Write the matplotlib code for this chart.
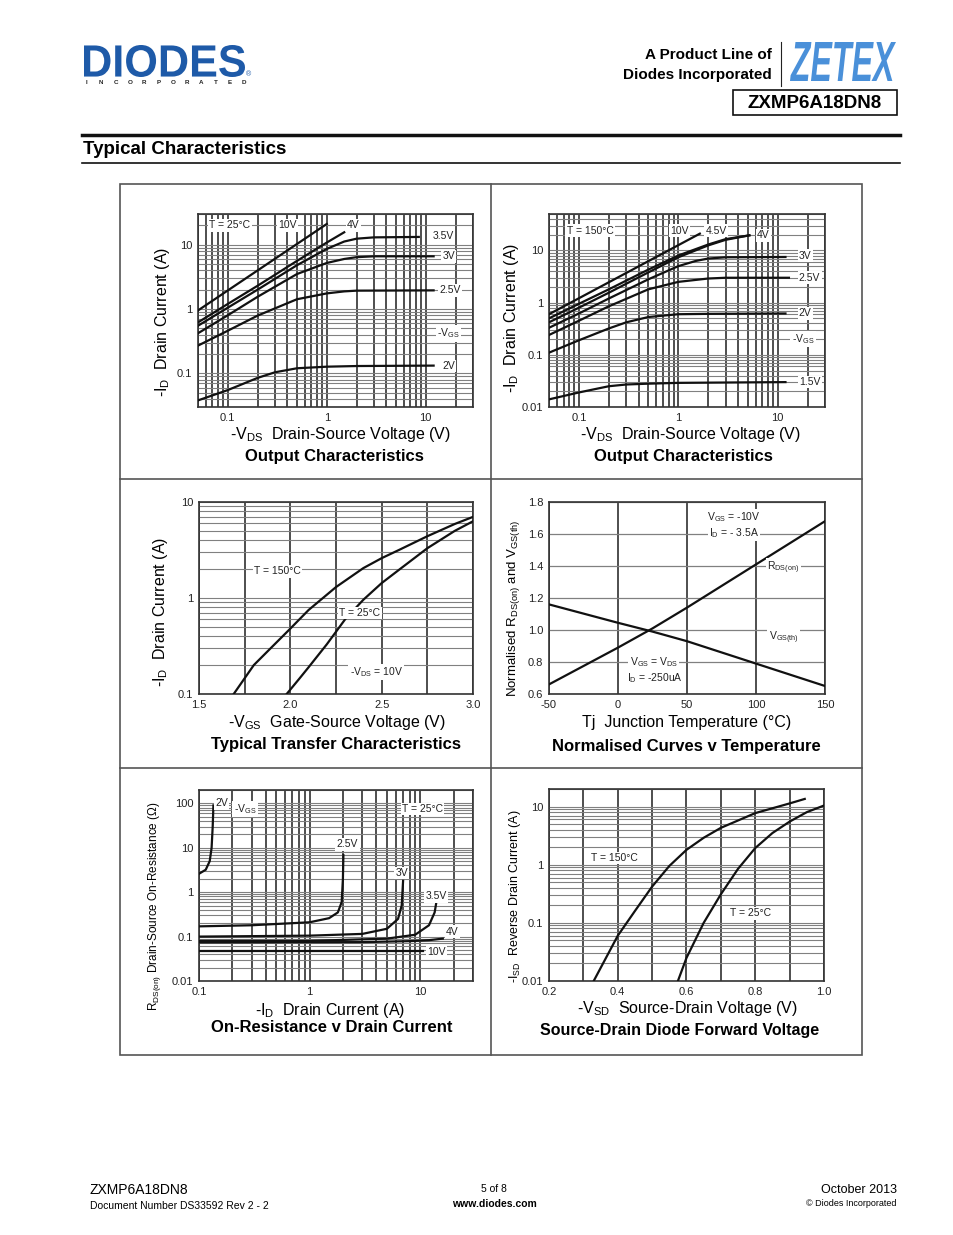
import matplotlib
matplotlib.use("Agg")
import matplotlib.pyplot as plt
from matplotlib.ticker import LogLocator, NullFormatter, FixedLocator
from matplotlib.patches import Rectangle, PathPatch
from matplotlib.textpath import TextPath
from matplotlib.font_manager import FontProperties
from matplotlib.transforms import Affine2D

plt.rcParams['font.family'] = ['Liberation Sans', 'DejaVu Sans']
plt.rcParams['mathtext.fontset'] = 'custom'
plt.rcParams['mathtext.rm'] = 'Liberation Sans'
plt.rcParams['mathtext.it'] = 'Liberation Sans:italic'
plt.rcParams['mathtext.bf'] = 'Liberation Sans:bold'

W, H = 954, 1235

# ---- Output characteristics, T = 25°C ----
oc25_10v_x = [0.05, 1.0]
oc25_10v_y = [0.95, 21]
oc25_4v_x = [0.05, 0.1, 0.2, 0.5, 1.0, 1.5]
oc25_4v_y = [0.62, 1.2, 2.3, 5.6, 10.8, 15.6]
oc25_35v_x = [0.05, 0.1, 0.2, 0.5, 1.0, 1.5, 2.0, 3.0, 8.5]
oc25_35v_y = [0.55, 1.05, 2.0, 4.8, 8.6, 11.2, 12.4, 13.0, 13.2]
oc25_3v_x = [0.05, 0.1, 0.2, 0.5, 1.0, 1.5, 2.0, 3.0, 12]
oc25_3v_y = [0.42, 0.8, 1.55, 3.5, 5.2, 6.0, 6.4, 6.6, 6.6]
oc25_25v_x = [0.05, 0.1, 0.2, 0.5, 1.0, 1.5, 2.0, 12]
oc25_25v_y = [0.27, 0.46, 0.79, 1.42, 1.75, 1.88, 1.93, 1.95]
oc25_2v_x = [0.05, 0.1, 0.2, 0.3, 0.5, 1.0, 2.0, 12]
oc25_2v_y = [0.038, 0.055, 0.085, 0.104, 0.12, 0.127, 0.13, 0.132]

# ---- Output characteristics, T = 150°C ----
oc150_10v_x = [0.05, 1.65]
oc150_10v_y = [0.6, 21]
oc150_45v_x = [0.05, 0.1, 0.2, 0.5, 1.0, 2.0, 3.0, 5.2]
oc150_45v_y = [0.5, 0.95, 1.8, 4.3, 8.0, 13.0, 16.5, 19.5]
oc150_4v_x = [0.05, 0.1, 0.2, 0.5, 1.0, 2.0, 3.0, 5.2]
oc150_4v_y = [0.42, 0.8, 1.55, 3.8, 7.4, 12.5, 16.0, 19.5]
oc150_3v_x = [0.05, 0.1, 0.2, 0.5, 1.0, 1.5, 2.0, 3.0, 12]
oc150_3v_y = [0.33, 0.62, 1.2, 2.8, 5.0, 6.3, 7.0, 7.4, 7.5]
oc150_25v_x = [0.05, 0.1, 0.2, 0.5, 1.0, 2.0, 3.0, 13]
oc150_25v_y = [0.24, 0.45, 0.85, 1.8, 2.5, 2.9, 3.0, 3.0]
oc150_2v_x = [0.05, 0.1, 0.2, 0.3, 0.5, 1.0, 2.0, 12]
oc150_2v_y = [0.11, 0.19, 0.32, 0.42, 0.53, 0.6, 0.61, 0.62]
oc150_15v_x = [0.05, 0.1, 0.2, 0.3, 0.5, 1.0, 12]
oc150_15v_y = [0.014, 0.019, 0.025, 0.027, 0.028, 0.029, 0.03]

# ---- Transfer characteristics ----
tr150_vgs = [1.69, 1.8, 1.9, 2.0, 2.1, 2.25, 2.4, 2.5, 2.6, 2.75, 2.9, 3.0]
tr150_id = [0.1, 0.2, 0.31, 0.48, 0.75, 1.3, 2.05, 2.6, 3.2, 4.4, 5.9, 7.0]
tr25_vgs = [1.98, 2.05, 2.1, 2.2, 2.3, 2.4, 2.5, 2.6, 2.75, 2.9, 3.0]
tr25_id = [0.1, 0.145, 0.19, 0.33, 0.6, 0.96, 1.43, 2.0, 3.3, 5.0, 6.3]

# ---- Normalised curves v temperature ----
nt_temp = [-50, 0, 25, 50, 100, 150]
nt_rds = [0.66, 0.89, 1.01, 1.14, 1.41, 1.68]
nt_vth = [1.16, 1.045, 0.99, 0.93, 0.79, 0.65]

# ---- On-resistance v drain current ----
rd_2v_i = [0.1, 0.115, 0.125, 0.13, 0.133, 0.135]
rd_2v_r = [2.6, 3.2, 5.0, 10, 30, 90]
rd_25v_i = [0.1, 0.3, 1.0, 1.5, 1.8, 1.95, 2.0, 2.02]
rd_25v_r = [0.17, 0.18, 0.21, 0.26, 0.35, 0.6, 2.0, 6.8]
rd_3v_i = [0.1, 1.0, 3.0, 5.0, 6.3, 6.8, 7.0]
rd_3v_r = [0.1, 0.105, 0.115, 0.15, 0.25, 0.5, 1.8]
rd_35v_i = [0.1, 1.0, 5.0, 9.0, 12.0, 13.5, 14.0]
rd_35v_r = [0.08, 0.08, 0.09, 0.11, 0.18, 0.35, 0.6]
rd_4v_i = [0.1, 3.0, 8.0, 12.0, 16.0]
rd_4v_r = [0.074, 0.075, 0.079, 0.083, 0.09]
rd_10v_i = [0.1, 10.6]
rd_10v_r = [0.047, 0.047]

# ---- Source-drain diode forward voltage ----
sd150_v = [0.33, 0.4, 0.45, 0.5, 0.55, 0.6, 0.65, 0.7, 0.8, 0.9, 0.944]
sd150_i = [0.01, 0.06, 0.16, 0.42, 0.95, 1.8, 2.9, 4.3, 7.7, 11.3, 13.5]
sd25_v = [0.575, 0.6, 0.65, 0.7, 0.75, 0.8, 0.85, 0.9, 0.95, 1.0]
sd25_i = [0.01, 0.025, 0.1, 0.31, 0.85, 1.93, 3.5, 5.5, 8.0, 10.4]

fig = plt.figure(figsize=(W / 100, H / 100), dpi=100)


def px_axes(x0, y0, x1, y1):
    return fig.add_axes([x0 / W, 1 - y1 / H, (x1 - x0) / W, (y1 - y0) / H])


def ftext(x, y, s, **kw):
    return fig.text(x / W, 1 - y / H, s, **kw)


def logo(s, x0, y0, x1, y1, color, fp):
    # text stretched into a pixel box (top-left origin)
    tp = TextPath((0, 0), s, size=100, prop=fp)
    ext = tp.get_extents()
    tr = (Affine2D().translate(-ext.x0, -ext.y0)
          .scale((x1 - x0) / ext.width, (y1 - y0) / ext.height)
          .translate(x0, H - y1).scale(1 / W, 1 / H))
    fig.add_artist(PathPatch(tr.transform_path(tp), facecolor=color, edgecolor='none',
                             transform=fig.transFigure))


def style(ax, logx=True, logy=True):
    if logx:
        ax.set_xscale('log')
        ax.xaxis.set_minor_locator(LogLocator(base=10, subs=range(2, 10)))
        ax.xaxis.set_minor_formatter(NullFormatter())
    if logy:
        ax.set_yscale('log')
        ax.yaxis.set_minor_locator(LogLocator(base=10, subs=range(2, 10)))
        ax.yaxis.set_minor_formatter(NullFormatter())
    ax.grid(True, which='both', axis='x', color='#1e1e1e', lw=1.1)
    ax.grid(True, which='both', axis='y', color='#808080', lw=0.8)
    ax.tick_params(which='both', length=0, labelsize=8, colors='#222', pad=4)
    for s in ax.spines.values():
        s.set_color('#333')
        s.set_linewidth(1.2)
    ax.set_axisbelow(True)


def lbl(ax, x, y, s, size=7.5):
    ax.text(x, y, s, fontsize=size, ha='center', va='center', color='#222',
            bbox=dict(facecolor='white', edgecolor='none', pad=1.0), zorder=5)


LW = 1.6

# ================= Header =================
bold = FontProperties(family='Liberation Sans', weight='bold')
bold_it = FontProperties(family='Liberation Sans', weight='bold', style='italic')
logo('DIODES', 84, 45, 245, 77, '#1e5aa8', bold)
ftext(249, 75, '®', fontsize=5, color='#1e5aa8', ha='center', va='center')
for k, ch in enumerate('INCORPORATED'):
    ftext(87 + k * 14.3, 83, ch, fontsize=4.5, fontweight='bold', color='#222', ha='center', va='center')
ftext(772, 55, 'A Product Line of', fontsize=11, fontweight='bold', ha='right', va='center')
ftext(772, 75, 'Diodes Incorporated', fontsize=11, fontweight='bold', ha='right', va='center')
fig.add_artist(plt.Line2D([781 / W, 781 / W], [1 - 42 / H, 1 - 86 / H], color='#222', lw=0.8))
logo('ZETEX', 790, 42, 896, 81, '#4a90d9', bold_it)
fig.add_artist(Rectangle((733 / W, 1 - 115 / H), 164 / W, 25 / H, fill=False,
                         edgecolor='#111', lw=1.2, transform=fig.transFigure))
ftext(815, 103, 'ZXMP6A18DN8', fontsize=13.5, fontweight='bold', ha='center', va='center')
fig.add_artist(plt.Line2D([82 / W, 900 / W], [1 - 135 / H, 1 - 135 / H], color='#111', lw=2.5))
ftext(83, 149, 'Typical Characteristics', fontsize=13.5, fontweight='bold', ha='left', va='center')
fig.add_artist(plt.Line2D([82 / W, 900 / W], [1 - 163 / H, 1 - 163 / H], color='#111', lw=1.2))

# panel frame
fig.add_artist(Rectangle((120 / W, 1 - 1055 / H), 742 / W, 871 / H, fill=False,
                         edgecolor='#555', lw=1.2, transform=fig.transFigure))
for yy in (479, 768):
    fig.add_artist(plt.Line2D([120 / W, 862 / W], [1 - yy / H, 1 - yy / H], color='#555', lw=1.2))
fig.add_artist(plt.Line2D([491 / W, 491 / W], [1 - 184 / H, 1 - 1055 / H], color='#555', lw=1.2))

# ================= Panel 1 =================
ax = px_axes(198, 214, 473, 407)
style(ax)
for xs, ys in [(oc25_10v_x, oc25_10v_y), (oc25_4v_x, oc25_4v_y), (oc25_35v_x, oc25_35v_y),
               (oc25_3v_x, oc25_3v_y), (oc25_25v_x, oc25_25v_y), (oc25_2v_x, oc25_2v_y)]:
    ax.plot(xs, ys, color='#111', lw=LW, zorder=4)
ax.set_xlim(0.05, 30)
ax.set_ylim(0.03, 30)
ax.set_xticks([0.1, 1, 10], ['0.1', '1', '10'])
ax.set_yticks([0.1, 1, 10], ['0.1', '1', '10'])
lbl(ax, 0.105, 20, 'T = 25°C')
lbl(ax, 0.4, 20, '10V')
lbl(ax, 1.85, 20, '4V')
lbl(ax, 15, 13.5, '3.5V')
lbl(ax, 17, 6.6, '3V')
lbl(ax, 17.5, 1.95, '2.5V')
lbl(ax, 17, 0.42, r'-V$_{\rm GS}$')
lbl(ax, 17, 0.13, '2V')
ftext(163, 322, r'-I$_{\rm D}$  Drain Current (A)', fontsize=11.5, rotation=90, ha='center', va='center')
ftext(340, 434, r'-V$_{\rm DS}$  Drain-Source Voltage (V)', fontsize=11.5, ha='center', va='center')
ftext(334, 456, 'Output Characteristics', fontsize=12, fontweight='bold', ha='center', va='center')

# ================= Panel 2 =================
ax = px_axes(549, 214, 825, 407)
style(ax)
for xs, ys in [(oc150_10v_x, oc150_10v_y), (oc150_45v_x, oc150_45v_y), (oc150_4v_x, oc150_4v_y),
               (oc150_3v_x, oc150_3v_y), (oc150_25v_x, oc150_25v_y), (oc150_2v_x, oc150_2v_y),
               (oc150_15v_x, oc150_15v_y)]:
    ax.plot(xs, ys, color='#111', lw=LW, zorder=4)
ax.set_xlim(0.05, 30)
ax.set_ylim(0.01, 50)
ax.set_xticks([0.1, 1, 10], ['0.1', '1', '10'])
ax.set_yticks([0.01, 0.1, 1, 10], ['0.01', '0.1', '1', '10'])
lbl(ax, 0.13, 24, 'T = 150°C')
lbl(ax, 1.03, 24, '10V')
lbl(ax, 2.4, 24, '4.5V')
lbl(ax, 7.2, 19.5, '4V')
lbl(ax, 19, 8.0, '3V')
lbl(ax, 21, 3.0, '2.5V')
lbl(ax, 19, 0.62, '2V')
lbl(ax, 18, 0.2, r'-V$_{\rm GS}$')
lbl(ax, 21, 0.03, '1.5V')
ftext(512, 318, r'-I$_{\rm D}$  Drain Current (A)', fontsize=11.5, rotation=90, ha='center', va='center')
ftext(690, 434, r'-V$_{\rm DS}$  Drain-Source Voltage (V)', fontsize=11.5, ha='center', va='center')
ftext(683, 457, 'Output Characteristics', fontsize=12, fontweight='bold', ha='center', va='center')

# ================= Panel 3 =================
ax = px_axes(199, 502, 473, 694)
style(ax, logx=False)
ax.plot(tr150_vgs, tr150_id, color='#111', lw=LW, zorder=4)
ax.plot(tr25_vgs, tr25_id, color='#111', lw=LW, zorder=4)
ax.set_xlim(1.5, 3.0)
ax.set_ylim(0.1, 10)
ax.xaxis.set_major_locator(FixedLocator([1.5, 2.0, 2.5, 3.0]))
ax.xaxis.set_minor_locator(FixedLocator([1.75, 2.25, 2.75]))
ax.set_xticklabels(['1.5', '2.0', '2.5', '3.0'])
ax.set_yticks([0.1, 1, 10], ['0.1', '1', '10'])
lbl(ax, 1.93, 1.9, 'T = 150°C')
lbl(ax, 2.38, 0.7, 'T = 25°C')
lbl(ax, 2.47, 0.17, r'-V$_{\rm DS}$ = 10V')
ftext(160, 612, r'-I$_{\rm D}$  Drain Current (A)', fontsize=11.5, rotation=90, ha='center', va='center')
ftext(337, 723, r'-V$_{\rm GS}$  Gate-Source Voltage (V)', fontsize=11.5, ha='center', va='center')
ftext(336, 745, 'Typical Transfer Characteristics', fontsize=12, fontweight='bold', ha='center', va='center')

# ================= Panel 4 =================
ax = px_axes(549, 502, 825, 694)
style(ax, logx=False, logy=False)
ax.plot(nt_temp, nt_rds, color='#111', lw=LW, zorder=4)
ax.plot(nt_temp, nt_vth, color='#111', lw=LW, zorder=4)
ax.set_xlim(-50, 150)
ax.set_ylim(0.6, 1.8)
ax.set_xticks([-50, 0, 50, 100, 150], ['-50', '0', '50', '100', '150'])
ax.set_yticks([0.6, 0.8, 1.0, 1.2, 1.4, 1.6, 1.8], ['0.6', '0.8', '1.0', '1.2', '1.4', '1.6', '1.8'])
ax.grid(True, which='major', axis='x', color='#1e1e1e', lw=1.1)
ax.grid(True, which='major', axis='y', color='#808080', lw=0.9)
lbl(ax, 84, 1.705, r'V$_{\rm GS}$ = -10V')
lbl(ax, 84, 1.605, r'I$_{\rm D}$ = - 3.5A')
lbl(ax, 120, 1.39, r'R$_{\rm DS(on)}$')
lbl(ax, 120, 0.95, r'V$_{\rm GS(th)}$')
lbl(ax, 26, 0.8, r'V$_{\rm GS}$ = V$_{\rm DS}$')
lbl(ax, 27, 0.7, r'I$_{\rm D}$ = -250uA')
ftext(514, 608, r'Normalised R$_{\rm DS(on)}$ and V$_{\rm GS(th)}$', fontsize=9.5, rotation=90,
      ha='center', va='center')
ftext(687, 723, 'Tj  Junction Temperature (°C)', fontsize=11.5, ha='center', va='center')
ftext(686, 747, 'Normalised Curves v Temperature', fontsize=12, fontweight='bold', ha='center', va='center')

# ================= Panel 5 =================
ax = px_axes(199, 790, 473, 981)
style(ax)
for xs, ys in [(rd_2v_i, rd_2v_r), (rd_25v_i, rd_25v_r), (rd_3v_i, rd_3v_r),
               (rd_35v_i, rd_35v_r), (rd_4v_i, rd_4v_r), (rd_10v_i, rd_10v_r)]:
    ax.plot(xs, ys, color='#111', lw=LW, zorder=4)
ax.set_xlim(0.1, 30)
ax.set_ylim(0.01, 200)
ax.set_xticks([0.1, 1, 10], ['0.1', '1', '10'])
ax.set_yticks([0.01, 0.1, 1, 10, 100], ['0.01', '0.1', '1', '10', '100'])
lbl(ax, 0.16, 100, '2V')
lbl(ax, 0.26, 75, r'-V$_{\rm GS}$')
lbl(ax, 10.5, 75, 'T = 25°C')
lbl(ax, 2.2, 12, '2.5V')
lbl(ax, 6.8, 2.7, '3V')
lbl(ax, 14, 0.8, '3.5V')
lbl(ax, 19.5, 0.13, '4V')
lbl(ax, 14, 0.046, '10V')
ftext(155, 906, r'R$_{\rm DS(on)}$ Drain-Source On-Resistance ($\Omega$)', fontsize=8.5, rotation=90,
      ha='center', va='center')
ftext(330, 1011, r'-I$_{\rm D}$  Drain Current (A)', fontsize=11.5, ha='center', va='center')
ftext(332, 1028, 'On-Resistance v Drain Current', fontsize=12, fontweight='bold', ha='center', va='center')

# ================= Panel 6 =================
ax = px_axes(549, 789, 824, 981)
style(ax, logx=False)
ax.plot(sd150_v, sd150_i, color='#111', lw=LW, zorder=4)
ax.plot(sd25_v, sd25_i, color='#111', lw=LW, zorder=4)
ax.set_xlim(0.2, 1.0)
ax.set_ylim(0.01, 20)
ax.xaxis.set_major_locator(FixedLocator([0.2, 0.4, 0.6, 0.8, 1.0]))
ax.xaxis.set_minor_locator(FixedLocator([0.3, 0.5, 0.7, 0.9]))
ax.set_xticklabels(['0.2', '0.4', '0.6', '0.8', '1.0'])
ax.set_yticks([0.01, 0.1, 1, 10], ['0.01', '0.1', '1', '10'])
lbl(ax, 0.39, 1.3, 'T = 150°C')
lbl(ax, 0.785, 0.145, 'T = 25°C')
ftext(515, 896, r'-I$_{\rm SD}$  Reverse Drain Current (A)', fontsize=9, rotation=90,
      ha='center', va='center')
ftext(687, 1008, r'-V$_{\rm SD}$  Source-Drain Voltage (V)', fontsize=11.5, ha='center', va='center')
ftext(680, 1031, 'Source-Drain Diode Forward Voltage', fontsize=11.5, fontweight='bold',
      ha='center', va='center')

# ================= Footer =================
ftext(90, 1190, 'ZXMP6A18DN8', fontsize=10, ha='left', va='center')
ftext(90, 1206, 'Document Number DS33592 Rev 2 - 2', fontsize=7.5, ha='left', va='center')
ftext(494, 1189, '5 of 8', fontsize=7.5, ha='center', va='center')
ftext(494, 1204, 'www.diodes.com', fontsize=7.5, fontweight='bold', ha='center', va='center')
ftext(897, 1190, 'October 2013', fontsize=9, ha='right', va='center')
ftext(897, 1204, '© Diodes Incorporated', fontsize=6.5, ha='right', va='center')

fig.savefig('out.png', dpi=100)
